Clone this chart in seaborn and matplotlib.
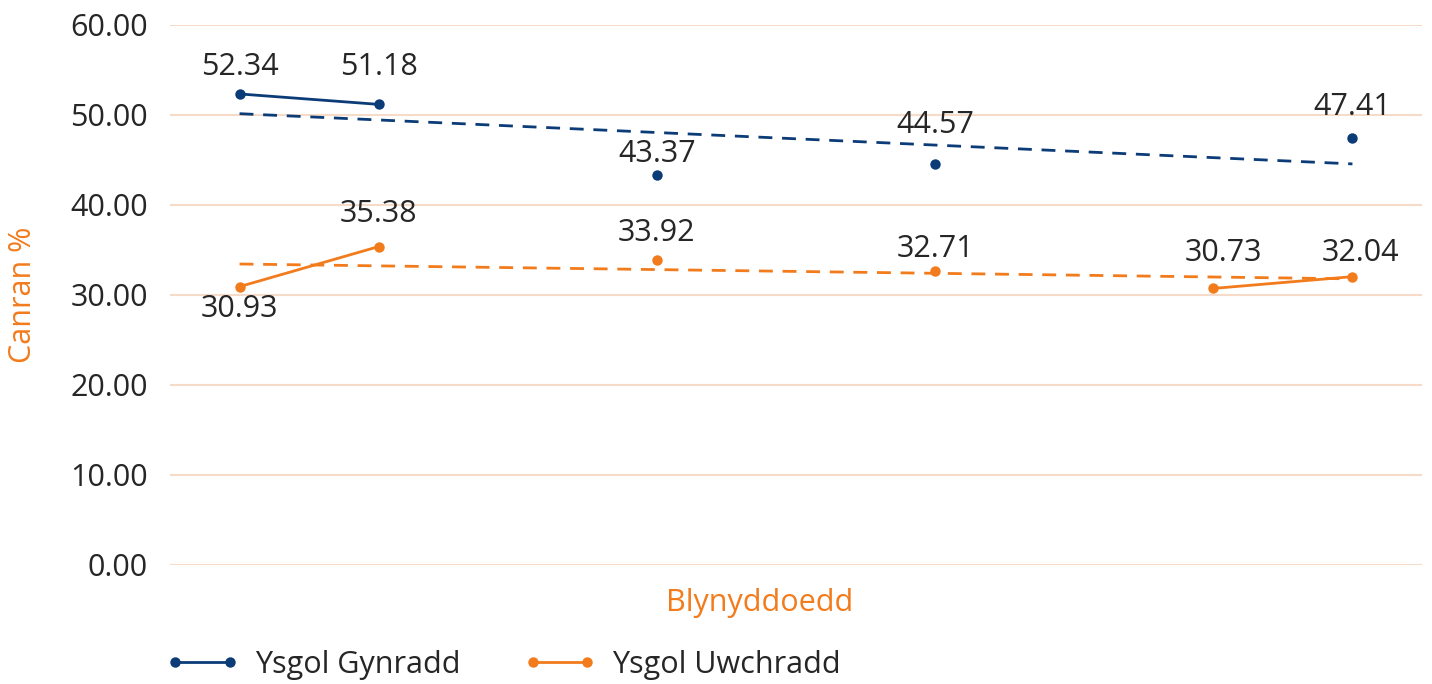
import numpy as np
import pandas as pd
import matplotlib
matplotlib.use("Agg")
import matplotlib.pyplot as plt
import seaborn as sns
from matplotlib.lines import Line2D

# ---- data ----
years = ["", "", "", "", "", "", "", "", ""]  # x categories (no tick labels shown)
series_names = ["Ysgol Gynradd", "Ysgol Uwchradd"]
gynradd = [52.34, 51.18, np.nan, 43.37, np.nan, 44.57, np.nan, np.nan, 47.41]
uwchradd = [30.93, 35.38, np.nan, 33.92, np.nan, 32.71, np.nan, 30.73, 32.04]
y_ticks = [0, 10, 20, 30, 40, 50, 60]

# ---- styling ----
BLUE = "#0c3c78"
ORANGE = "#f27b1c"
GRID = "#f6dcc8"
TXT = "#262626"
FS = 22
# data-label offsets (pixels, dx/dy) per (series, index)
label_offsets_px = {
    (0, 0): (0, 27), (0, 1): (0, 37), (0, 3): (0, 21), (0, 5): (0, 39), (0, 8): (0, 31),
    (1, 0): (0, -22), (1, 1): (0, 33), (1, 3): (0, 27), (1, 5): (0, 22),
    (1, 7): (10, 35), (1, 8): (8, 24),
}

sns.set_theme(style="white")
plt.rcParams["font.family"] = ["Open Sans", "DejaVu Sans"]

# long-form frame with segments (contiguous non-missing runs)
rows = []
for si, (name, vals) in enumerate(zip(series_names, [gynradd, uwchradd])):
    seg = 0
    prev_nan = True
    for i, v in enumerate(vals):
        if np.isnan(v):
            prev_nan = True
            continue
        if prev_nan:
            seg += 1
        prev_nan = False
        rows.append({"x": i, "value": v, "series": name, "si": si, "seg": f"{name}-{seg}"})
df = pd.DataFrame(rows)

fig = plt.figure(figsize=(14.32, 6.84), dpi=100)
ax = fig.add_axes([170 / 1432, 1 - 565 / 684, 1252 / 1432, 540 / 684])

palette = {series_names[0]: BLUE, series_names[1]: ORANGE}

# trend lines (linear fit over available points)
for name, col in palette.items():
    d = df[df.series == name]
    k, b = np.polyfit(d.x, d.value, 1)
    tx = np.array([0, len(years) - 1])
    tdf = pd.DataFrame({"x": tx, "value": k * tx + b})
    sns.lineplot(data=tdf, x="x", y="value", ax=ax, color=col, lw=2.0,
                 linestyle=(0, (5, 3.5)), legend=False)

sns.lineplot(data=df, x="x", y="value", hue="series", units="seg", estimator=None,
             palette=palette, ax=ax, marker="o", markersize=7.5, markeredgewidth=0,
             lw=2.0, legend=False, sort=True)

# data labels
for _, r in df.iterrows():
    dx, dy = label_offsets_px.get((r.si, r.x), (0, 28))
    ax.annotate(f"{r.value:.2f}", (r.x, r.value), xytext=(dx * 0.72, dy * 0.72),
                textcoords="offset points", ha="center", va="center",
                fontsize=FS, color=TXT)

ax.set_xlim(-0.5, len(years) - 0.5)
ax.set_ylim(0, 60)
ax.set_yticks(y_ticks)
ax.set_yticklabels([f"{t:.2f}" for t in y_ticks], fontsize=FS, color=TXT)
ax.set_xticks(range(len(years)))
ax.set_xticklabels(years)
ax.tick_params(axis="both", length=0)
ax.tick_params(axis="y", pad=16)
ax.grid(axis="y", color=GRID, lw=1.5)
ax.set_axisbelow(True)
for s in ax.spines.values():
    s.set_visible(False)

ax.set_xlabel("Blynyddoedd", fontsize=FS, color=ORANGE)
ax.xaxis.set_label_coords((760 - 170) / 1252, -(588 - 565) / 540)
ax.set_ylabel("Canran %", fontsize=FS, color=ORANGE)
ax.yaxis.set_label_coords(-(170 - 38) / 1252, 0.5)

handles = [Line2D([0], [0], color=c, lw=2.0, marker="o", markersize=7.5, markeredgewidth=0)
           for c in [BLUE, ORANGE]]
fig.legend(handles, series_names, loc="center left", bbox_to_anchor=(166 / 1432, 1 - 665 / 684),
           ncol=2, frameon=False, fontsize=FS, numpoints=2, handlelength=2.39,
           handletextpad=0.52, columnspacing=2.06, borderpad=0, borderaxespad=0,
           labelcolor=TXT)

fig.savefig("out.png", dpi=100)
